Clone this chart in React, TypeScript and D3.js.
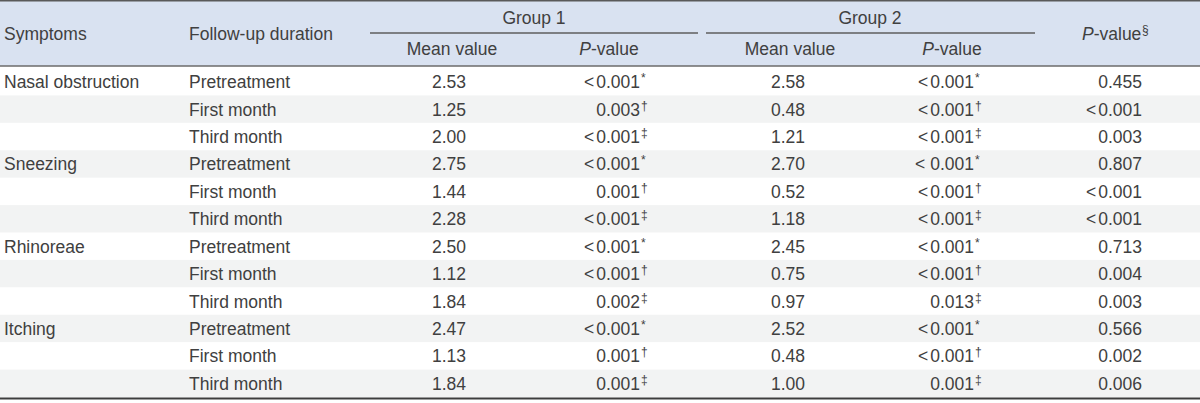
import React from 'react';
import * as d3 from 'd3';

const symptoms = ['Nasal obstruction', 'Sneezing', 'Rhinoreae', 'Itching'];
const durations = ['Pretreatment', 'First month', 'Third month'];
const marks = ['*', '\u2020', '\u2021'];

const g1Mean = ['2.53', '1.25', '2.00', '2.75', '1.44', '2.28', '2.50', '1.12', '1.84', '2.47', '1.13', '1.84'];
const g1P = ['<0.001', '0.003', '<0.001', '<0.001', '0.001', '<0.001', '<0.001', '<0.001', '0.002', '<0.001', '0.001', '0.001'];
const g2Mean = ['2.58', '0.48', '1.21', '2.70', '0.52', '1.18', '2.45', '0.75', '0.97', '2.52', '0.48', '1.00'];
const g2P = ['<0.001', '<0.001', '<0.001', '< 0.001', '<0.001', '<0.001', '<0.001', '<0.001', '0.013', '<0.001', '<0.001', '0.001'];
const pBetween = ['0.455', '<0.001', '0.003', '0.807', '<0.001', '<0.001', '0.713', '0.004', '0.003', '0.566', '0.002', '0.006'];

const width = 1200;
const height = 403;
const headerH = 66;
const bodyTop = 68;
const tableBottom = 397;
const font = '"Liberation Sans", Arial, sans-serif';
const textColor = '#404040';
const fs = 17.5;

const rows = d3.range(symptoms.length * durations.length);

// "<" in the source is set with a little air before the number
const pText = (v: string) =>
  v.startsWith('<') ? <><tspan>{'<'}</tspan><tspan dx={v[1] === ' ' ? 0 : 2}>{v.slice(1)}</tspan></> : v;

const App = () => {
  const y = d3.scaleBand<number>().domain(rows).range([bodyTop, tableBottom]);

  const sup = (x: number, yy: number, m: string) => (
    <text x={x} y={yy - 6} fontSize={12} fill={textColor}>{m}</text>
  );

  return (
    <svg width={width} height={height} style={{ position: 'absolute', left: 0, top: 0 }}
      fontFamily={font} fontSize={fs} fill={textColor}>
      <rect x={0} y={0} width={width} height={headerH} fill="#d9e2f1" />
      {rows.map(i => (
        <rect key={'bg' + i} x={0} y={y(i)} width={width} height={y.bandwidth() + 0.5}
          fill={i % 2 === 1 ? '#f2f3f3' : '#ffffff'} />
      ))}
      <line x1={0} x2={width} y1={0.75} y2={0.75} stroke="#5a5a5a" strokeWidth={1.5} />
      <line x1={0} x2={width} y1={headerH} y2={headerH} stroke="#6b6b6b" strokeWidth={1.3} />
      <line x1={0} x2={width} y1={tableBottom + 1.5} y2={tableBottom + 1.5} stroke="#3d3d3d" strokeWidth={2} />
      <line x1={370} x2={698} y1={33} y2={33} stroke="#5e5e5e" strokeWidth={1.3} />
      <line x1={706} x2={1035} y1={33} y2={33} stroke="#5e5e5e" strokeWidth={1.3} />

      <text x={4} y={40}>Symptoms</text>
      <text x={189} y={40}>Follow-up duration</text>
      <text x={534} y={24} textAnchor="middle">Group 1</text>
      <text x={870} y={24} textAnchor="middle">Group 2</text>
      <text x={452} y={55} textAnchor="middle">Mean value</text>
      <text x={609} y={55} textAnchor="middle"><tspan fontStyle="italic">P</tspan>-value</text>
      <text x={790} y={55} textAnchor="middle">Mean value</text>
      <text x={952} y={55} textAnchor="middle"><tspan fontStyle="italic">P</tspan>-value</text>
      <text x={1082} y={40}><tspan fontStyle="italic">P</tspan>-value</text>
      {sup(1142, 40, '\u00a7')}

      {rows.map(i => {
        const cy = (y(i) as number) + y.bandwidth() / 2 + 6.5;
        const d = i % durations.length;
        return (
          <g key={'r' + i}>
            {d === 0 && <text x={4} y={cy}>{symptoms[Math.floor(i / durations.length)]}</text>}
            <text x={189} y={cy}>{durations[d]}</text>
            <text x={449} y={cy} textAnchor="middle">{g1Mean[i]}</text>
            <text x={640} y={cy} textAnchor="end">{pText(g1P[i])}</text>
            {sup(641, cy, marks[d])}
            <text x={788} y={cy} textAnchor="middle">{g2Mean[i]}</text>
            <text x={974} y={cy} textAnchor="end">{pText(g2P[i])}</text>
            {sup(975, cy, marks[d])}
            <text x={1142} y={cy} textAnchor="end">{pText(pBetween[i])}</text>
          </g>
        );
      })}
    </svg>
  );
};

export default App;
